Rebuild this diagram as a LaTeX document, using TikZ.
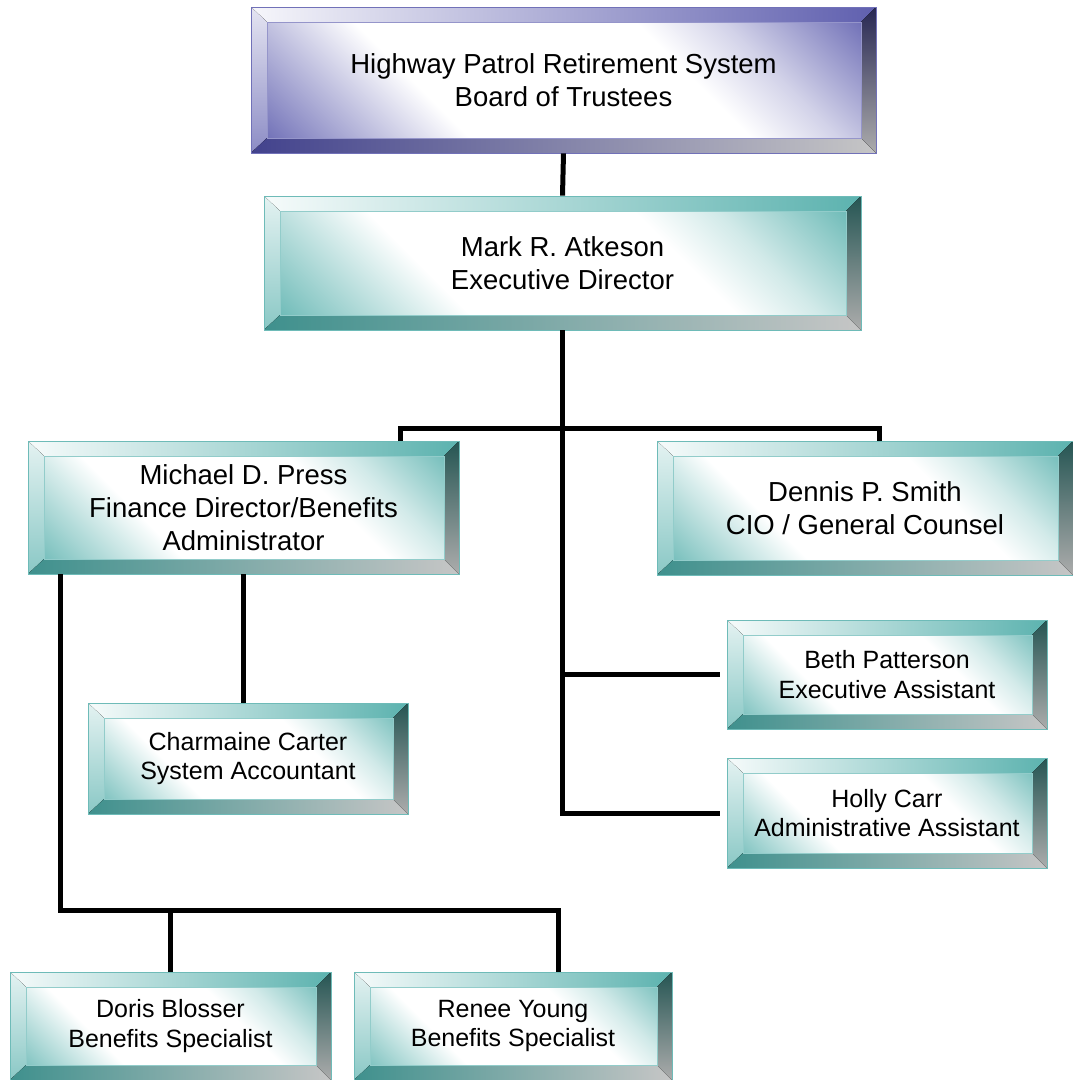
\documentclass[tikz,border=0pt]{standalone}
\usepackage{fontspec}
\setmainfont{Liberation Sans}
\usetikzlibrary{calc}

\definecolor{tealedge}{RGB}{74,170,166}
\definecolor{boardblue}{RGB}{78,78,166}
\newcommand{\bigtext}{\fontsize{27.5}{33}\selectfont}
\newcommand{\smalltext}{\fontsize{25}{29.5}\selectfont}

% face shadings: coloured corners, white middle band
\pgfdeclareverticalshading{tealedgeface}{100bp}{color(0bp)=(tealedge); color(16bp)=(tealedge!85);
  color(36bp)=(white); color(62bp)=(white); color(70bp)=(tealedge!25); color(84bp)=(tealedge!85); color(100bp)=(tealedge)}
\pgfdeclareverticalshading{boardblueface}{100bp}{color(0bp)=(boardblue); color(16bp)=(boardblue!85);
  color(36bp)=(white); color(62bp)=(white); color(70bp)=(boardblue!25); color(84bp)=(boardblue!85); color(100bp)=(boardblue)}

\tikzset{
  bevelbox/.style={
    draw=#1!80, line width=0.8pt, inner sep=0pt, align=center,
    shade, shading=#1face, shading angle=-45,
    path picture={
      \coordinate (bb-sw) at (path picture bounding box.south west);
      \coordinate (bb-ne) at (path picture bounding box.north east);
      \coordinate (bb-nw) at (bb-sw |- bb-ne);
      \coordinate (bb-se) at (bb-ne |- bb-sw);
      \coordinate (in-sw) at ($(bb-sw)+(16pt,15pt)$);
      \coordinate (in-ne) at ($(bb-ne)+(-15pt,-15pt)$);
      \coordinate (in-nw) at (in-sw |- in-ne);
      \coordinate (in-se) at (in-ne |- in-sw);
      % top edge
      \fill[left color=#1!5, right color=#1!90] (bb-nw) -- (bb-ne) -- (in-ne) -- (in-nw) -- cycle;
      % left edge
      \fill[top color=#1!15, bottom color=#1!65] (bb-nw) -- (in-nw) -- (in-sw) -- (bb-sw) -- cycle;
      % bottom edge
      \fill[left color=#1!85!black, right color=gray!45] (bb-sw) -- (in-sw) -- (in-se) -- (bb-se) -- cycle;
      % right edge
      \fill[top color=#1!50!black, bottom color=gray!65] (bb-ne) -- (bb-se) -- (in-se) -- (in-ne) -- cycle;
      \draw[#1!60, line width=0.6pt] (in-sw) rectangle (in-ne);
    }
  },
  bigbox/.style={bevelbox=#1, font=\bigtext},
  smallbox/.style={bevelbox=#1, font=\smalltext},
  wire/.style={line width=5pt, black}
}

\begin{document}
\begin{tikzpicture}[x=1pt, y=-1pt]
\useasboundingbox (0,0) rectangle (1073,1080);

% boxes
\node[bigbox=boardblue, minimum width=625pt, minimum height=146pt] (board) at (563.5,80)
  {Highway Patrol Retirement System\\Board of Trustees};
\node[bigbox=tealedge, minimum width=597pt, minimum height=134pt] (exec) at (562.5,263)
  {Mark R. Atkeson\\Executive Director};
\node[bigbox=tealedge, minimum width=431pt, minimum height=133pt] (press) at (243.5,507.5)
  {Michael D. Press\\Finance Director/Benefits\\Administrator};
\node[bigbox=tealedge, minimum width=416pt, minimum height=134pt] (smith) at (865,508)
  {Dennis P. Smith\\CIO / General Counsel};
\node[smallbox=tealedge, minimum width=320pt, minimum height=109pt] (beth) at (887,674.5)
  {Beth Patterson\\Executive Assistant};
\node[smallbox=tealedge, minimum width=320pt, minimum height=110pt] (carr) at (887,813)
  {Holly Carr\\Administrative Assistant};
\node[smallbox=tealedge, minimum width=320pt, minimum height=111pt] (carter) at (248,758.5)
  {Charmaine Carter\\System Accountant};
\node[smallbox=tealedge, minimum width=321pt, minimum height=108pt] (blosser) at (170.5,1026)
  {Doris Blosser\\Benefits Specialist};
\node[smallbox=tealedge, minimum width=318pt, minimum height=108pt] (young) at (513,1026)
  {Renee Young\\Benefits Specialist};

% free ends
\coordinate (bus) at (563,428);
\coordinate (pressdrop) at (400,441);
\coordinate (smithdrop) at (879,441);
\coordinate (pressleft) at (60,574);
\coordinate (lowbus) at (558,910);
\coordinate (youngdrop) at (558,972);

% connectors
\draw[wire] (board.south) -- (exec.north);
\draw[wire] (exec.south) -- (exec.south |- carr.west) -- ([xshift=-7pt]carr.west);
\draw[wire] (exec.south |- beth.west) -- ([xshift=-7pt]beth.west);
\draw[wire] (pressdrop) |- (bus) -| (smithdrop);
\draw[wire] (press.south) -- (press.south |- carter.north);
\draw[wire] (pressleft) |- (lowbus) -- (youngdrop);
\draw[wire] (blosser.north) -- (blosser.north |- lowbus);
\end{tikzpicture}
\end{document}
